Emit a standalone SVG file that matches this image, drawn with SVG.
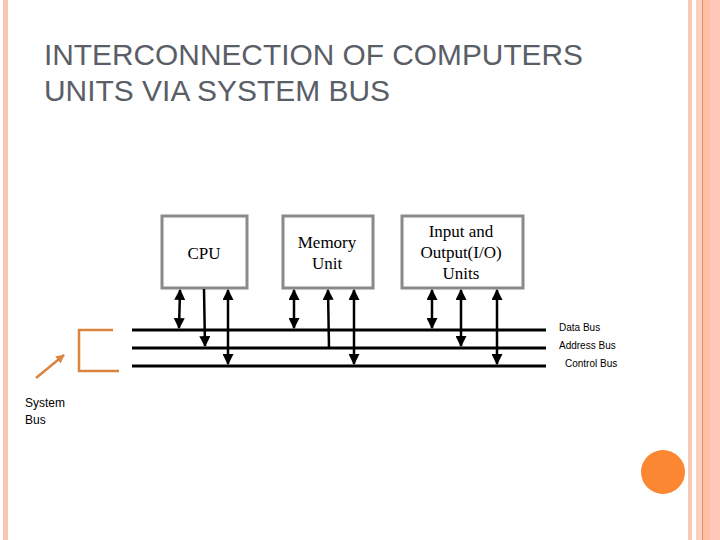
<svg xmlns="http://www.w3.org/2000/svg" width="720" height="540" viewBox="0 0 720 540">
<style>
.box{fill:#fff;stroke:#8a8a8a;stroke-width:3}
.bt{font-family:"Liberation Serif",serif;font-size:17px;fill:#000;text-anchor:middle}
.bus{stroke:#000;stroke-width:3}
.conn{stroke:#000;stroke-width:2.5;fill:none}
.lbl{font-family:"Liberation Sans",Arial,sans-serif;font-size:10px;fill:#000}
.title{font-family:"Liberation Sans",Arial,sans-serif;font-size:29px;fill:#5a5e66}
.or{stroke:#d9853f;stroke-width:2.5;fill:none}
</style>
<defs>
<marker id="ah" viewBox="0 0 10 10" refX="9" refY="5" markerWidth="4.4" markerHeight="4.4" orient="auto-start-reverse" markerUnits="strokeWidth">
<path d="M0,0 L10,5 L0,10 z" fill="#000"/>
</marker>
<marker id="oh" viewBox="0 0 10 10" refX="9" refY="5" markerWidth="3.5" markerHeight="3.5" orient="auto" markerUnits="strokeWidth">
<path d="M0,0 L10,5 L0,10 z" fill="#d9853f"/>
</marker>
</defs>
<rect width="720" height="540" fill="#fff"/>
<g id="frame">
<rect x="3" y="0" width="5" height="540" fill="#f8c6b2"/>
<rect x="688" y="0" width="4" height="540" fill="#f7c9b5"/>
<rect x="696" y="0" width="6" height="540" fill="#fad0c0"/>
<rect x="702" y="0" width="1.2" height="540" fill="#e0905f"/>
<rect x="703" y="0" width="7" height="540" fill="#ffbfa5"/>
<rect x="710" y="0" width="10" height="540" fill="#ffc8b8"/>
<circle cx="663" cy="472" r="22" fill="#fb8733"/>
</g>
<g id="title">
<text class="title" x="44" y="65" textLength="539" lengthAdjust="spacingAndGlyphs">INTERCONNECTION OF COMPUTERS</text>
<text class="title" x="44" y="101" textLength="346" lengthAdjust="spacingAndGlyphs">UNITS VIA SYSTEM BUS</text>
</g>
<g id="cpu">
<rect class="box" x="162" y="216" width="85" height="72"/>
<text class="bt" x="204" y="259">CPU</text>
</g>
<g id="memory">
<rect class="box" x="283" y="216" width="90" height="72"/>
<text class="bt" x="327" y="248">Memory</text>
<text class="bt" x="327" y="269">Unit</text>
</g>
<g id="io">
<rect class="box" x="402" y="216" width="121" height="72"/>
<text class="bt" x="461" y="237">Input and</text>
<text class="bt" x="461" y="258">Output(I/O)</text>
<text class="bt" x="461" y="279">Units</text>
</g>
<g id="buses">
<line class="bus" x1="132" y1="330" x2="546" y2="330"/>
<line class="bus" x1="132" y1="348" x2="546" y2="348"/>
<line class="bus" x1="132" y1="366" x2="546" y2="366"/>
<text class="lbl" x="559" y="331">Data Bus</text>
<text class="lbl" x="559" y="349">Address Bus</text>
<text class="lbl" x="565" y="367">Control Bus</text>
</g>
<g id="connectors">
<line class="conn" x1="180" y1="290" x2="179" y2="328" marker-start="url(#ah)" marker-end="url(#ah)"/>
<line class="conn" x1="204" y1="289" x2="205" y2="346" marker-end="url(#ah)"/>
<line class="conn" x1="228" y1="290" x2="228" y2="364" marker-start="url(#ah)" marker-end="url(#ah)"/>
<line class="conn" x1="294" y1="290" x2="294" y2="328" marker-start="url(#ah)" marker-end="url(#ah)"/>
<line class="conn" x1="329" y1="348" x2="328" y2="290" marker-end="url(#ah)"/>
<line class="conn" x1="354" y1="290" x2="354" y2="364" marker-start="url(#ah)" marker-end="url(#ah)"/>
<line class="conn" x1="432" y1="290" x2="432" y2="328" marker-start="url(#ah)" marker-end="url(#ah)"/>
<line class="conn" x1="461" y1="290" x2="461" y2="346" marker-start="url(#ah)" marker-end="url(#ah)"/>
<line class="conn" x1="497" y1="290" x2="497" y2="364" marker-start="url(#ah)" marker-end="url(#ah)"/>
</g>
<g id="system-bus">
<polyline class="or" points="113,330 79,330 79,371 119,371"/>
<line class="or" x1="36" y1="378" x2="64" y2="355" marker-end="url(#oh)"/>
<text class="lbl" style="font-size:12px" x="25" y="407">System</text>
<text class="lbl" style="font-size:12px" x="25" y="424">Bus</text>
</g>
</svg>
